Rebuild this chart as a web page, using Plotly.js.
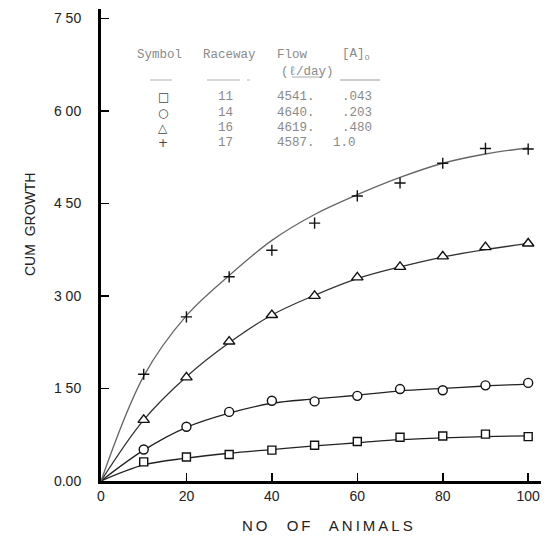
<!DOCTYPE html>
<html><head><meta charset="utf-8">
<script src="https://cdn.plot.ly/plotly-3.0.1.min.js"></script>
<style>html,body{margin:0;padding:0;background:#fff}#c{width:552px;height:538px}</style>
</head><body><div id="c"></div>
<script>
// ---- data ----
const nAnimals = [10,20,30,40,50,60,70,80,90,100];
const race11 = [0.31,0.39,0.43,0.50,0.58,0.64,0.71,0.73,0.76,0.72];
const race14 = [0.51,0.88,1.12,1.30,1.29,1.38,1.49,1.47,1.55,1.59];
const race16 = [0.99,1.68,2.26,2.69,3.00,3.30,3.47,3.64,3.79,3.85];
const race17 = [1.73,2.66,3.31,3.74,4.18,4.62,4.83,5.15,5.39,5.38];

const fitX = [0,10,20,30,40,50,60,70,80,90,100];
const fit11 = [0,0.26,0.37,0.45,0.51,0.57,0.62,0.67,0.70,0.72,0.73];
const fit14 = [0,0.50,0.87,1.10,1.26,1.33,1.39,1.46,1.50,1.54,1.57];
const fit16 = [0,0.99,1.69,2.24,2.69,3.01,3.28,3.47,3.63,3.75,3.85];
const fit17 = [0,1.70,2.68,3.33,3.90,4.32,4.64,4.92,5.15,5.30,5.40];

const yTickVals = [0,1.5,3,4.5,6,7.5];
const yTickText = ["0.00","1 50","3 00","4 50","6 00","7 50"];
const xTickVals = [0,20,40,60,80,100];
const xTickText = ["0","20","40","60","80","100"];

const tblSymbols = ["\u25A1","\u25CB","\u25B3","+"];
const tblRaceway = ["11","14","16","17"];
const tblFlow = ["4541.","4640.","4619.","4587."];
const tblA = [".043",".203",".480","1.0"];

// ---- traces ----
function fit(y, col){return {x:fitX,y:y,mode:'lines',line:{shape:'spline',color:col,width:1.3},hoverinfo:'skip',showlegend:false};}
function pts(y, sym, size){return {x:nAnimals,y:y,mode:'markers',marker:{symbol:sym,size:size,color:'#fff',line:{color:'#111',width:1.4}},showlegend:false};}
const traces = [
  fit(fit11,'#222'), fit(fit14,'#222'), fit(fit16,'#333'), fit(fit17,'#666'),
  pts(race11,'square',8), pts(race14,'circle',9), pts(race16,'triangle-up',10),
  {x:nAnimals,y:race17,mode:'markers',marker:{symbol:'cross-thin',size:8,color:'#111',line:{color:'#111',width:1.4}},showlegend:false}
];

// ---- layout ----
const L=101, R=541, T=9, B=481;
const px = x => (x-L)/(R-L);
const py = y => (B-y)/(B-T);
const tf = {family:'Liberation Mono, DejaVu Sans Mono, monospace', size:12.5, color:'#8a8a8a'};
const ann = [];
function txt(x,y,t,opt){ann.push(Object.assign({xref:'paper',yref:'paper',x:px(x),y:py(y),text:t,showarrow:false,xanchor:'left',yanchor:'middle',font:tf},opt||{}));}
txt(135,55,'Symbol'); txt(201,55,'Raceway'); txt(275,55,'Flow'); txt(340,55,'[A]<sub>o</sub>');
txt(279,72,'(\u2113/day)');
const rowY=[97,112.5,128,143];
for(let i=0;i<4;i++){
  txt(163,rowY[i],tblSymbols[i],{xanchor:'center',font:{family:'DejaVu Sans',size:12,color:'#444'}});
  txt(225,rowY[i],tblRaceway[i],{xanchor:'center'});
  txt(275,rowY[i],tblFlow[i]);
  txt(i===3?331:340,rowY[i],tblA[i]);
}
ann.push({xref:'paper',yref:'paper',x:px(30),y:py(225),text:'CUM  GROWTH',textangle:-90,showarrow:false,xanchor:'center',yanchor:'middle',font:{family:'Liberation Sans, Arial',size:14,color:'#222'}});
ann.push({xref:'paper',yref:'paper',x:px(327),y:py(525),text:'N\u2009O\u2003 O\u2009F\u2003 A\u2009N\u2009I\u2009M\u2009A\u2009L\u2009S',showarrow:false,xanchor:'center',yanchor:'middle',font:{family:'Liberation Sans, Arial',size:15,color:'#222'}});

function hl(x0,x1,y,col,w){return {type:'line',xref:'paper',yref:'paper',x0:px(x0),x1:px(x1),y0:py(y),y1:py(y),line:{color:col,width:w}};}
const shapes=[hl(150,172,80,'#d8d8d8',2), hl(207,240,80,'#d8d8d8',2), hl(247,250,80,'#bbb',1), hl(340,380,80,'#999',1), hl(292,322,77,'#aaa',1)];

const layout = {
  width:552,height:538,
  margin:{l:L,r:552-R,t:T,b:538-B},
  paper_bgcolor:'#fff',plot_bgcolor:'#fff',
  xaxis:{range:[0,103],showgrid:false,zeroline:false,showline:true,linewidth:3,linecolor:'#000',
    ticks:'inside',ticklen:8,tickwidth:1.5,tickcolor:'#000',tickvals:xTickVals,ticktext:xTickText,
    tickfont:{family:'Liberation Sans, Arial',size:14,color:'#222'},ticklabelstandoff:0},
  yaxis:{range:[0,7.65],showgrid:false,zeroline:false,showline:true,linewidth:3,linecolor:'#000',
    ticks:'inside',ticklen:8,tickwidth:1.5,tickcolor:'#000',tickvals:yTickVals,ticktext:yTickText,
    tickfont:{family:'Liberation Sans, Arial',size:14,color:'#222'},ticklabelstandoff:14},
  annotations:ann, shapes:shapes, showlegend:false
};
Plotly.newPlot('c',traces,layout,{staticPlot:true});
</script></body></html>
